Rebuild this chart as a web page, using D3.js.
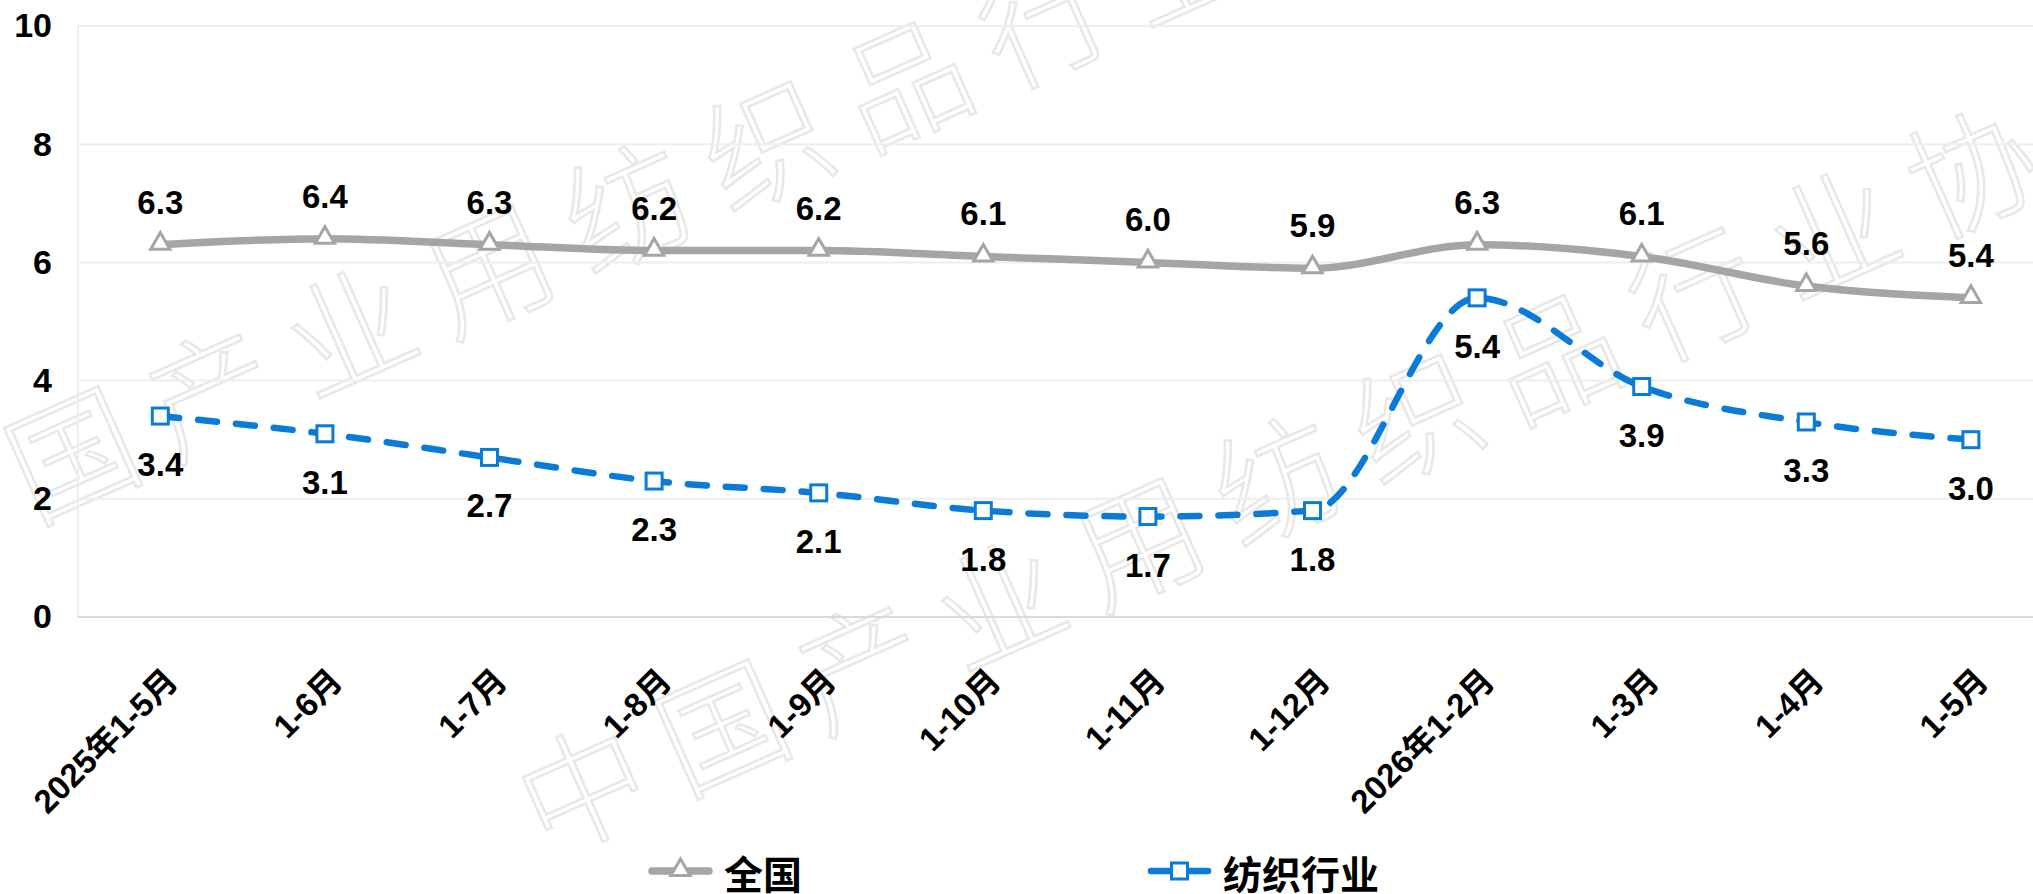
<!DOCTYPE html>
<html>
<head>
<meta charset="utf-8">
<script src="https://cdn.jsdelivr.net/npm/d3@7"></script>
<style>
  body { margin: 0; background: #fff; }
  svg { display: block; }
</style>
</head>
<body>
<div id="container"></div>
<script>
const width = 2033;
const height = 894;

//------------------DATA------------------//
const categories = ["2025年1-5月", "1-6月", "1-7月", "1-8月", "1-9月", "1-10月", "1-11月", "1-12月", "2026年1-2月", "1-3月", "1-4月", "1-5月"];
const national = [6.3, 6.4, 6.3, 6.2, 6.2, 6.1, 6.0, 5.9, 6.3, 6.1, 5.6, 5.4];
const textile = [3.4, 3.1, 2.7, 2.3, 2.1, 1.8, 1.7, 1.8, 5.4, 3.9, 3.3, 3.0];
const yTicks = [0, 2, 4, 6, 8, 10];
const seriesNames = ["全国", "纺织行业"];
const watermark = "中国产业用纺织品行业协会";

const font = "'Liberation Sans', Arial, 'Noto Sans CJK SC', sans-serif";
const grey = "#a5a5a5";
const blue = "#0a7bd6";

const svg = d3.select("#container").append("svg")
  .attr("width", width)
  .attr("height", height);

//------------------SCALES------------------//
const plotLeft = 78;
const xScale = d3.scalePoint().domain(categories).range([plotLeft, plotLeft + 12 * 164.6]).padding(0.5);
const yScale = d3.scaleLinear().domain([0, 10]).range([617, 26]);

//------------------WATERMARK------------------//
const wm = svg.append("g").attr("class", "watermark");
[[-70, 509], [580, 782]].forEach(function(p) {
  const g = wm.append("g").attr("transform", "translate(" + p[0] + "," + p[1] + ") rotate(-24)");
  g.selectAll("text")
    .data(watermark.split(""))
    .enter()
    .append("text")
    .attr("x", function(d, i) { return i * 152; })
    .attr("y", 0)
    .attr("text-anchor", "middle")
    .attr("dominant-baseline", "central")
    .style("font-family", "'Noto Sans CJK SC', sans-serif")
    .style("font-weight", 300)
    .style("font-size", "126px")
    .style("fill", "none")
    .style("stroke", "#e8e8e8")
    .style("stroke-width", 2.5)
    .text(function(d) { return d; });
});

//------------------GRID------------------//
svg.append("g")
  .selectAll("line")
  .data(yTicks.filter(function(d) { return d > 0; }))
  .enter()
  .append("line")
  .attr("x1", plotLeft)
  .attr("x2", width)
  .attr("y1", function(d) { return yScale(d); })
  .attr("y2", function(d) { return yScale(d); })
  .style("stroke", "#eeeeee")
  .style("stroke-width", 2);

svg.append("line")
  .attr("x1", plotLeft).attr("x2", plotLeft)
  .attr("y1", yScale(10)).attr("y2", yScale(0))
  .style("stroke", "#eeeeee")
  .style("stroke-width", 2);

svg.append("line")
  .attr("x1", plotLeft).attr("x2", width)
  .attr("y1", yScale(0)).attr("y2", yScale(0))
  .style("stroke", "#d9d9d9")
  .style("stroke-width", 2);

//------------------AXES------------------//
const yaxis = d3.axisLeft(yScale).tickValues(yTicks).tickSize(0).tickPadding(26);
svg.append("g")
  .attr("transform", "translate(" + plotLeft + ",0)")
  .call(yaxis)
  .call(function(g) { g.select(".domain").remove(); })
  .selectAll("text")
  .style("font-family", font)
  .style("font-weight", "bold")
  .style("font-size", "34px")
  .style("fill", "#000");

const xaxis = d3.axisBottom(xScale).tickSize(0).tickPadding(0);
svg.append("g")
  .attr("transform", "translate(0," + yScale(0) + ")")
  .call(xaxis)
  .call(function(g) { g.select(".domain").remove(); })
  .selectAll("text")
  .attr("dy", null)
  .attr("y", 0)
  .attr("text-anchor", "end")
  .attr("transform", "translate(19,66) rotate(-45)")
  .style("font-family", font)
  .style("font-weight", "bold")
  .style("font-size", "33px")
  .style("fill", "#000");

//------------------LINES------------------//
const line = d3.line()
  .x(function(d, i) { return xScale(categories[i]); })
  .y(function(d) { return yScale(d); })
  .curve(d3.curveMonotoneX);

svg.append("path")
  .attr("d", line(national))
  .style("fill", "none")
  .style("stroke", grey)
  .style("stroke-width", 7.5)
  .style("stroke-linecap", "round");

svg.append("path")
  .attr("d", line(textile))
  .style("fill", "none")
  .style("stroke", blue)
  .style("stroke-width", 6.5)
  .style("stroke-dasharray", "19 19")
  .style("stroke-linecap", "round");

//------------------MARKERS------------------//
const tri = d3.symbol().type(d3.symbolTriangle).size(160);
svg.append("g")
  .selectAll("path")
  .data(national)
  .enter()
  .append("path")
  .attr("d", tri)
  .attr("transform", function(d, i) { return "translate(" + xScale(categories[i]) + "," + (yScale(d) - 1) + ")"; })
  .style("fill", "#fff")
  .style("stroke", grey)
  .style("stroke-width", 3);

svg.append("g")
  .selectAll("rect")
  .data(textile)
  .enter()
  .append("rect")
  .attr("x", function(d, i) { return xScale(categories[i]) - 8; })
  .attr("y", function(d) { return yScale(d) - 8; })
  .attr("width", 16)
  .attr("height", 16)
  .style("fill", "#fff")
  .style("stroke", blue)
  .style("stroke-width", 3);

//------------------DATA LABELS------------------//
const fmt = d3.format(".1f");
svg.append("g")
  .selectAll("text")
  .data(national)
  .enter()
  .append("text")
  .attr("x", function(d, i) { return xScale(categories[i]); })
  .attr("y", function(d) { return yScale(d) - 31; })
  .attr("text-anchor", "middle")
  .style("font-family", font)
  .style("font-weight", "bold")
  .style("font-size", "33px")
  .text(function(d) { return fmt(d); });

svg.append("g")
  .selectAll("text")
  .data(textile)
  .enter()
  .append("text")
  .attr("x", function(d, i) { return xScale(categories[i]); })
  .attr("y", function(d) { return yScale(d) + 60; })
  .attr("text-anchor", "middle")
  .style("font-family", font)
  .style("font-weight", "bold")
  .style("font-size", "33px")
  .text(function(d) { return fmt(d); });

//------------------LEGEND------------------//
const legendY = 871;
const legendX = [652, 1151];
const legend = svg.selectAll(".legend")
  .data(seriesNames)
  .enter()
  .append("g")
  .attr("class", "legend")
  .attr("transform", function(d, i) { return "translate(" + legendX[i] + "," + legendY + ")"; });

legend.append("line")
  .attr("x1", 0).attr("x2", 57)
  .attr("y1", 0).attr("y2", 0)
  .style("stroke", function(d, i) { return i === 0 ? grey : blue; })
  .style("stroke-width", function(d, i) { return i === 0 ? 7.5 : 6.5; })
  .style("stroke-linecap", "round");

legend.filter(function(d, i) { return i === 0; })
  .append("path")
  .attr("d", tri)
  .attr("transform", "translate(28.5,-1)")
  .style("fill", "#fff")
  .style("stroke", grey)
  .style("stroke-width", 3);

legend.filter(function(d, i) { return i === 1; })
  .append("rect")
  .attr("x", 20.5).attr("y", -8)
  .attr("width", 16).attr("height", 16)
  .style("fill", "#fff")
  .style("stroke", blue)
  .style("stroke-width", 3);

legend.append("text")
  .attr("x", 72)
  .attr("y", 1)
  .attr("dominant-baseline", "central")
  .style("font-family", "'Noto Sans CJK SC', sans-serif")
  .style("font-weight", "bold")
  .style("font-size", "39px")
  .text(function(d) { return d; });
</script>
</body>
</html>
